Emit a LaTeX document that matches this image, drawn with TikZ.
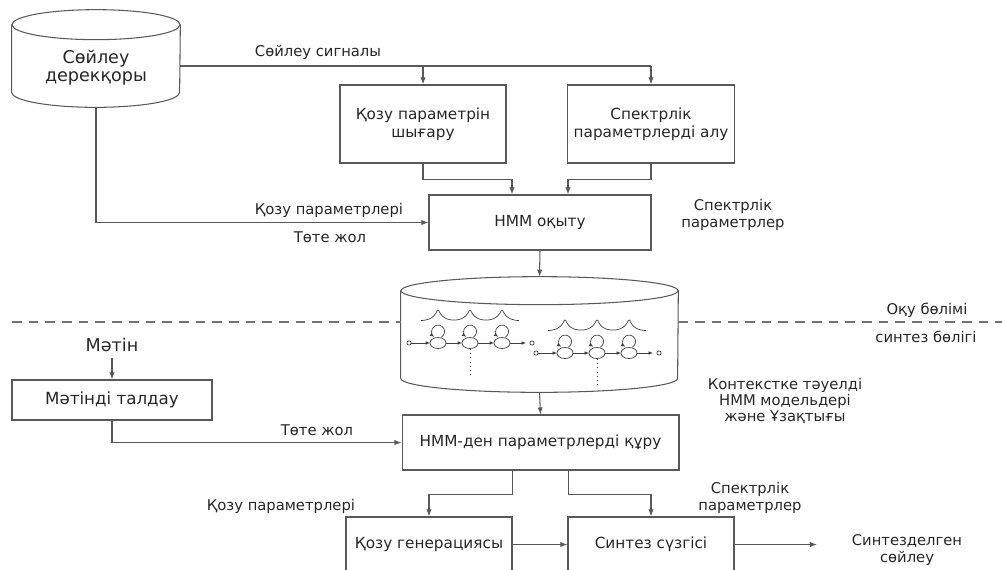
\documentclass[tikz,border=0pt]{standalone}
\usepackage{fontspec}
\setmainfont{DejaVu Sans}
\usetikzlibrary{calc,arrows.meta}

\begin{document}
\begin{tikzpicture}[x=0.02cm, y=-0.02cm, >={Latex[length=4pt,width=3pt]},
  conn/.style={draw=black!65, line width=0.6pt},
  box/.style={draw=black!65, line width=0.6pt, align=center, text=black!85, font=\fontsize{8.7}{10}\selectfont},
  lbl/.style={align=center, text=black!85, font=\fontsize{8.4}{9.5}\selectfont},
  big/.style={align=center, text=black!85, font=\fontsize{10}{10}\selectfont},
  hmm/.style={draw=black!75, line width=0.4pt},
  hmmarr/.style={hmm, -{Latex[length=2.5pt,width=2pt]}}]
\useasboundingbox (0,0) rectangle (1002,569);
\clip (0,0) rectangle (1002,569);

\coordinate (sep) at (12,322);
\coordinate (sepend) at (1002,322);
\coordinate (spk) at (817,544.5);

\node[big, minimum width=3.36cm, minimum height=1.64cm, text depth=0pt] (db) at (96,66) {Сөйлеу\\дерекқоры};
\draw[conn] (db.north west) -- ([yshift=0.3cm]db.south west) arc[start angle=180, end angle=360, x radius=1.68cm, y radius=0.3cm] -- (db.north east);
\draw[conn] (db.north) ellipse[x radius=1.68cm, y radius=0.3cm];

\node[box, minimum width=3.32cm, minimum height=1.56cm] (exc) at (423,124) {Қозу параметрін\\шығару};
\node[box, minimum width=3.32cm, minimum height=1.56cm] (spec) at (651,124) {Спектрлік\\параметрлерді алу};
\node[box, minimum width=4.44cm, minimum height=1.1cm] (train) at (540,222.5) {HMM оқыту};

\node[minimum width=5.54cm, minimum height=2.02cm] (models) at (539.5,341.5) {};
\draw[conn] (models.north west) -- ([yshift=0.28cm]models.south west) arc[start angle=180, end angle=360, x radius=2.77cm, y radius=0.28cm] -- (models.north east);
\draw[conn] (models.north) ellipse[x radius=2.77cm, y radius=0.28cm];

\foreach \sy/\sx in {343/438, 353/565} {
  \draw[hmm] (\sx-29,\sy) circle[radius=1.2pt];
  \draw[hmm] (\sx+94,\sy) circle[radius=1.2pt];
  \draw[hmmarr] (\sx-27,\sy) -- (\sx-8,\sy);
  \foreach \k in {0,1,2} {
    \draw[hmm] (\sx+32*\k,\sy) ellipse[x radius=8, y radius=5.5];
    \draw[hmmarr] (\sx+32*\k+3.3,\sy-5.8) arc[start angle=-60, end angle=235, radius=0.13cm];
    \draw[hmmarr] (\sx+32*\k+8,\sy) -- (\sx+32*\k+24,\sy);
  }
  \draw[hmm] plot[domain=\sx-17:\sx+81, samples=90] (\x, {\sy-22-12*(exp(-abs(\x-\sx)/5)+exp(-abs(\x-\sx-32)/5)+exp(-abs(\x-\sx-64)/5))});
  \draw[hmm, dotted] (\sx+32,\sy+6) -- (\sx+32,\sy+32);
}

\draw[conn, draw=black!55, dash pattern=on 5.5pt off 4pt] (sep) -- (models.west |- sep);
\draw[conn, draw=black!55, dash pattern=on 5.5pt off 4pt] (models.east |- sep) -- (sepend);

\node[big] (txt) at (112,345) {Мәтін};
\node[box, minimum width=4cm, minimum height=0.8cm, font=\fontsize{9.5}{11}\selectfont] (anal) at (112,400) {Мәтінді талдау};
\node[box, minimum width=5.54cm, minimum height=1.1cm] (gen) at (540.5,442.5) {HMM-ден параметрлерді құру};
\node[box, minimum width=3.32cm, minimum height=1.1cm] (excgen) at (429,544.5) {Қозу генерациясы};
\node[box, minimum width=3.32cm, minimum height=1.1cm] (filt) at (651,544.5) {Синтез сүзгісі};

\node[lbl] (siglbl) at (318,52) {Сөйлеу сигналы};
\node[lbl] (exclbl) at (329,210) {Қозу параметрлері};
\node[lbl] (short1) at (330,237) {Төте жол};
\node[lbl] (speclbl) at (733,215) {Спектрлік\\параметрлер};
\node[lbl] (learn) at (927,310) {Оқу бөлімі};
\node[lbl] (synth) at (926,337) {синтез бөлігі};
\node[lbl] (short2) at (317,430) {Төте жол};
\node[lbl, font=\fontsize{8.4}{7.6}\selectfont] (ctx) at (785,401) {Контекстке тәуелді\\HMM модельдері\\және Ұзақтығы};
\node[lbl] (exclbl2) at (281,506) {Қозу параметрлері};
\node[lbl] (speclbl2) at (750,498) {Спектрлік\\параметрлер};
\node[lbl] (out) at (907,550) {Синтезделген\\сөйлеу};

\draw[conn] (db.east) -- (spec.north |- db.east);
\draw[conn, ->] (exc.north |- db.east) -- (exc.north);
\draw[conn, ->] (spec.north |- db.east) -- (spec.north);
\draw[conn, ->] (exc.south) -- ++(0,16) -| ($(train.north)+(-28,0)$);
\draw[conn, ->] (spec.south) -- ++(0,16) -| ($(train.north)+(28,0)$);
\draw[conn, ->] (db.south) |- (train.west);
\draw[conn, ->] (train.south) -- ([yshift=0.28cm]models.north);
\draw[conn, ->] (models.south) -- (gen.north);
\draw[conn, ->] (txt) -- (anal);
\draw[conn, ->] (anal.south) |- (gen.west);
\draw[conn, ->] ($(gen.south)+(-28,0)$) -- ++(0,24) -| (excgen.north);
\draw[conn, ->] ($(gen.south)+(28,0)$) -- ++(0,24) -| (filt.north);
\draw[conn, ->] (excgen) -- (filt);
\draw[conn, ->] (filt) -- (spk);
\end{tikzpicture}
\end{document}
